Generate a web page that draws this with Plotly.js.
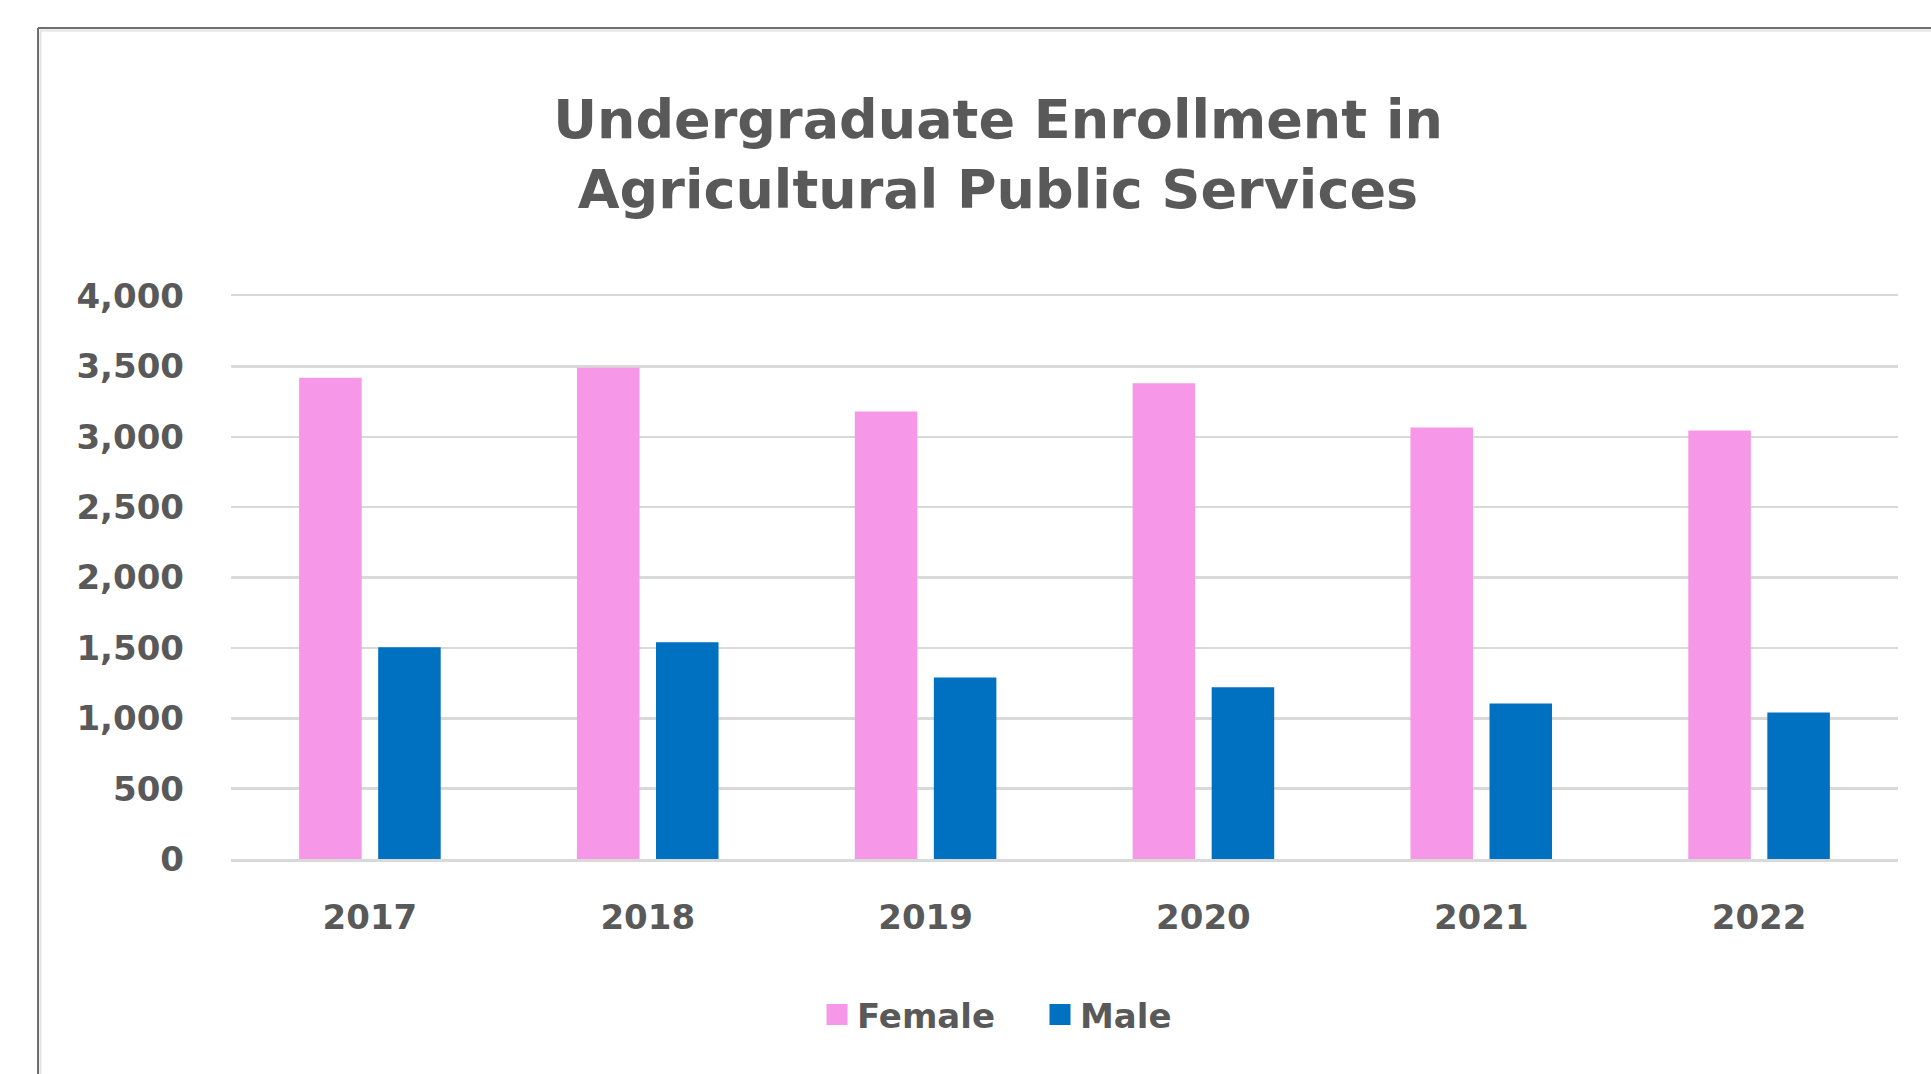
<!DOCTYPE html>
<html>
<head>
<meta charset="utf-8">
<script src="https://cdn.plot.ly/plotly-3.0.1.min.js"></script>
<style>
  html, body { margin: 0; padding: 0; background: #ffffff; }
  #chart { width: 1931px; height: 1074px; }
</style>
</head>
<body>
<div id="chart"></div>
<script>
// ---- Data ----
const years = ['2017', '2018', '2019', '2020', '2021', '2022'];
const female = [3420, 3490, 3180, 3380, 3065, 3045];
const male = [1505, 1540, 1290, 1220, 1105, 1040];
const seriesNames = ['Female', 'Male'];
const yTicks = [0, 500, 1000, 1500, 2000, 2500, 3000, 3500, 4000];

// ---- Styling ----
const W = 1931, H = 1074;
const M = { l: 231, r: 33, t: 296, b: 215 };
const pw = W - M.l - M.r, ph = H - M.t - M.b;
const toPx = x => (x - M.l) / pw;
const toPy = y => (H - M.b - y) / ph;
const FONT = 'DejaVu Sans, Verdana, sans-serif';
const TXT = '#595959';
const PINK = '#F697E7';
const BLUE = '#0070C0';
const GRID = '#D9D9D9';

const traces = [
  { type: 'bar', name: seriesNames[0], x: years, y: female, marker: { color: PINK }, showlegend: false, hoverinfo: 'x+y+name' },
  { type: 'bar', name: seriesNames[1], x: years, y: male, marker: { color: BLUE }, showlegend: false, hoverinfo: 'x+y+name' },
  // legend entries with larger square swatches
  { type: 'scatter', mode: 'markers', name: seriesNames[0], x: [years[0]], y: [null], marker: { symbol: 'square', size: 16, color: PINK, line: { color: PINK, width: 5 } }, showlegend: true, hoverinfo: 'skip' },
  { type: 'scatter', mode: 'markers', name: seriesNames[1], x: [years[0]], y: [null], marker: { symbol: 'square', size: 16, color: BLUE, line: { color: BLUE, width: 5 } }, showlegend: true, hoverinfo: 'skip' }
];

const layout = {
  width: W, height: H, autosize: false,
  margin: M,
  paper_bgcolor: '#ffffff', plot_bgcolor: '#ffffff',
  barmode: 'group', bargap: 0.431, bargroupgap: 0.209,
  font: { family: FONT, color: TXT, size: 34, weight: 'bold' },
  title: {
    text: 'Undergraduate Enrollment in<br>Agricultural Public Services',
    font: { family: FONT, size: 54, color: TXT, weight: 'bold' },
    xref: 'container', yref: 'container',
    x: 998 / W, xanchor: 'center',
    y: 1 - 138 / H, yanchor: 'middle'
  },
  xaxis: {
    type: 'category', categoryorder: 'array', categoryarray: years,
    showgrid: false, showline: true, mirror: true, linecolor: GRID, linewidth: 2.5,
    ticks: '', ticklabelstandoff: 27,
    tickfont: { family: FONT, size: 34, color: TXT, weight: 'bold' },
    fixedrange: true
  },
  yaxis: {
    range: [0, 4000], tickvals: yTicks, tickformat: ',d',
    showgrid: true, gridcolor: GRID, gridwidth: 2.5,
    zeroline: false, showline: false, ticks: '', ticklabelstandoff: 46,
    tickfont: { family: FONT, size: 34, color: TXT, weight: 'bold' },
    fixedrange: true
  },
  legend: {
    orientation: 'h', xref: 'container', yref: 'container',
    x: 817 / W, xanchor: 'left', y: 1 - 1015 / H, yanchor: 'middle',
    entrywidth: 178, entrywidthmode: 'pixels',
    font: { family: FONT, size: 34, color: TXT, weight: 'bold' },
    traceorder: 'normal', itemclick: false, itemdoubleclick: false
  },
  shapes: [
    { type: 'line', xref: 'paper', yref: 'paper', x0: toPx(38), x1: toPx(38), y0: toPy(28), y1: toPy(1100), line: { color: '#6E6E6E', width: 2 } },
    { type: 'line', xref: 'paper', yref: 'paper', x0: toPx(38), x1: toPx(1960), y0: toPy(28), y1: toPy(28), line: { color: '#6E6E6E', width: 2 } },
    { type: 'line', xref: 'paper', yref: 'paper', x0: toPx(40.5), x1: toPx(40.5), y0: toPy(31), y1: toPy(1100), line: { color: '#E3E3E3', width: 2 } },
    { type: 'line', xref: 'paper', yref: 'paper', x0: toPx(40), x1: toPx(1960), y0: toPy(30.5), y1: toPy(30.5), line: { color: '#E3E3E3', width: 2 } }
  ]
};

Plotly.newPlot('chart', traces, layout, { displayModeBar: false, staticPlot: true });
</script>
</body>
</html>
